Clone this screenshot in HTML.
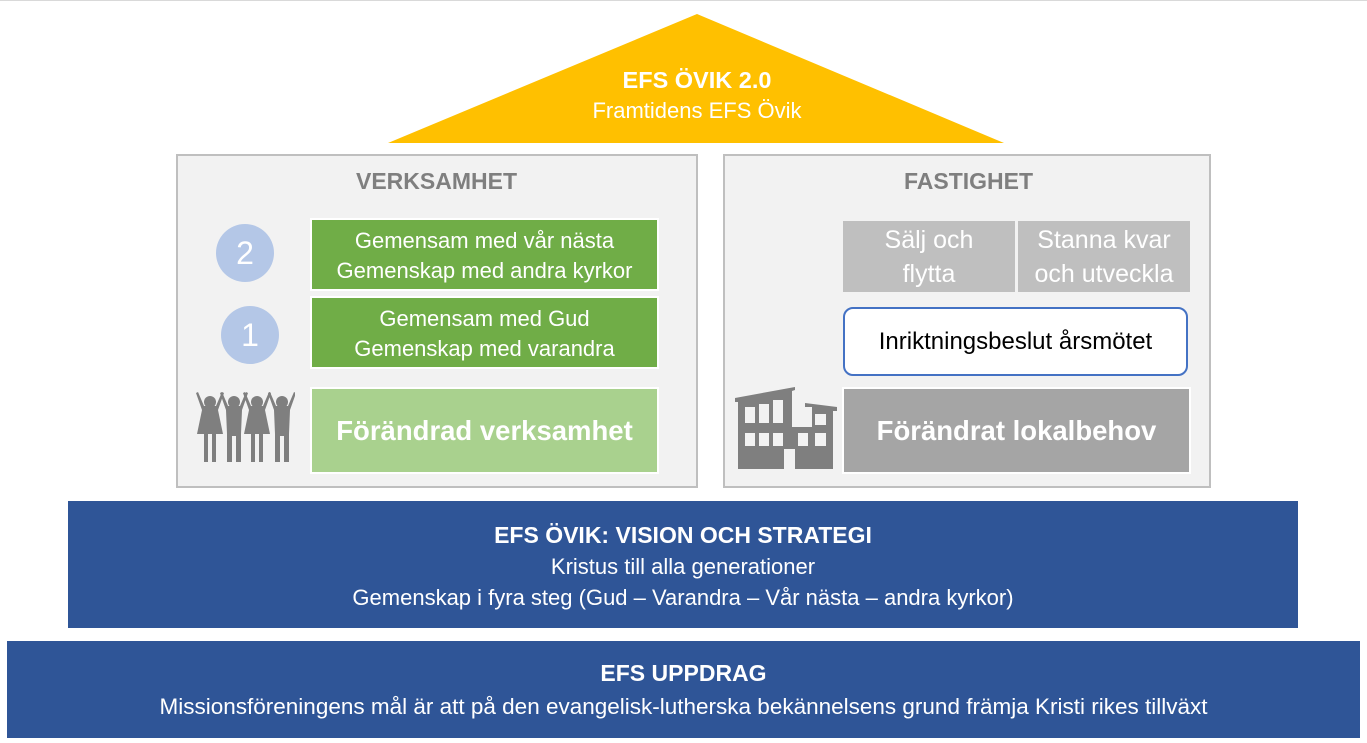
<!DOCTYPE html>
<html><head><meta charset="utf-8"><style>
*{margin:0;padding:0;box-sizing:border-box}
body{width:1367px;height:743px;background:#fff;position:relative;overflow:hidden;font-family:"Liberation Sans","DejaVu Sans",sans-serif}
.a{position:absolute}
.c{display:flex;align-items:center;justify-content:center;text-align:center;flex-direction:column;color:#fff;white-space:nowrap}
.panel{background:#f2f2f2;border:2px solid #bfbfbf}
.t{color:#7f7f7f;font-weight:bold;font-size:23px}
.g{background:#70ad47;border:2px solid #fff;font-size:22px;line-height:30px;padding-top:3px}
.gr{background:#bfbfbf;font-size:25px;line-height:34px}
.circ{border-radius:50%;background:#b4c7e7;color:#fff;font-size:32px}
</style></head><body>
<div class="a" style="left:0;top:0;width:1367px;height:1px;background:#d9d9d9"></div>
<svg class="a" style="left:0;top:0" width="1367" height="150"><polygon points="697,14 1004,143 388,143" fill="#ffc000"/></svg>
<div class="a c" style="left:497px;top:67px;width:400px;font-size:23.5px;font-weight:bold">EFS ÖVIK 2.0</div>
<div class="a c" style="left:497px;top:98px;width:400px;font-size:22px">Framtidens EFS Övik</div>

<div class="a panel" style="left:176px;top:154px;width:522px;height:334px"></div>
<div class="a t" style="left:356px;top:168px">VERKSAMHET</div>
<div class="a c circ" style="left:216px;top:224px;width:58px;height:58px">2</div>
<div class="a c circ" style="left:221px;top:306px;width:58px;height:58px">1</div>
<div class="a c g" style="left:310px;top:218px;width:349px;height:73px">Gemensam med vår nästa<br>Gemenskap med andra kyrkor</div>
<div class="a c g" style="left:310px;top:296px;width:349px;height:73px">Gemensam med Gud<br>Gemenskap med varandra</div>
<div class="a c g" style="left:310px;top:387px;width:349px;height:87px;background:#a9d18e;font-size:27.5px;font-weight:bold;padding-top:0">Förändrad verksamhet</div>
<svg class="a" style="left:195px;top:392px" width="100" height="72" fill="#7f7f7f">
<g id="p"><circle cx="15" cy="10" r="6"/><path d="M3 0 L9 14 L21 14 L27 0 L29 1 L23 18 L28 42 L21 42 L21 70 L17 70 L17 42 L13 42 L13 70 L9 70 L9 42 L2 42 L7 18 L1 1Z"/></g>
<g transform="translate(24,0)"><circle cx="15" cy="10" r="6"/><path d="M3 0 L9 14 L21 14 L27 0 L29 1 L23 18 L22 42 L22 70 L17 70 L17 44 L13 44 L13 70 L8 70 L8 42 L7 18 L1 1Z"/></g>
<use href="#p" x="47"/>
<g transform="translate(72,0)"><circle cx="15" cy="10" r="6"/><path d="M3 0 L9 14 L21 14 L27 0 L29 1 L23 18 L22 42 L22 70 L17 70 L17 44 L13 44 L13 70 L8 70 L8 42 L7 18 L1 1Z"/></g>
</svg>

<div class="a panel" style="left:723px;top:154px;width:488px;height:334px"></div>
<div class="a t" style="left:904px;top:168px">FASTIGHET</div>
<div class="a c gr" style="left:843px;top:221px;width:172px;height:71px">Sälj och<br>flytta</div>
<div class="a c gr" style="left:1018px;top:221px;width:172px;height:71px">Stanna kvar<br>och utveckla</div>
<div class="a c" style="left:843px;top:307px;width:345px;height:69px;background:#fff;border:2px solid #4472c4;border-radius:10px;color:#000;font-size:24px">Inriktningsbeslut årsmötet</div>
<div class="a c" style="left:842px;top:387px;width:349px;height:87px;background:#a5a5a5;border:2px solid #fff;font-size:27.5px;font-weight:bold">Förändrat lokalbehov</div>
<svg class="a" style="left:735px;top:387px" width="106" height="82" fill="#7f7f7f">
<path d="M0 11 L60 0 L60 3 L57 4 L57 40 L77 40 L77 20 L70 20 L70 16 L102 20 L102 24 L98 24 L98 82 L60 82 L60 62 L49 62 L49 82 L3 82 L3 15 L0 15Z"/>
<g fill="#f2f2f2"><rect x="10" y="20" width="10" height="16"/><rect x="24" y="17" width="10" height="19"/><rect x="38" y="13" width="10" height="23"/>
<rect x="10" y="46" width="10" height="13"/><rect x="24" y="46" width="10" height="13"/><rect x="38" y="46" width="10" height="13"/><rect x="63" y="46" width="10" height="13"/><rect x="80" y="27" width="11" height="11"/><rect x="80" y="46" width="11" height="13"/></g>
</svg>

<div class="a c" style="left:68px;top:501px;width:1230px;height:127px;background:#2f5597;font-size:22px;line-height:31px;padding-top:4px">
<div style="font-size:23px;font-weight:bold">EFS ÖVIK: VISION OCH STRATEGI</div>
<div>Kristus till alla generationer</div>
<div>Gemenskap i fyra steg (Gud – Varandra – Vår nästa – andra kyrkor)</div></div>
<div class="a c" style="left:7px;top:641px;width:1353px;height:97px;background:#2f5597;font-size:22.5px;line-height:34px">
<div style="font-size:23px;font-weight:bold">EFS UPPDRAG</div>
<div>Missionsföreningens mål är att på den evangelisk-lutherska bekännelsens grund främja Kristi rikes tillväxt</div></div>
</body></html>
